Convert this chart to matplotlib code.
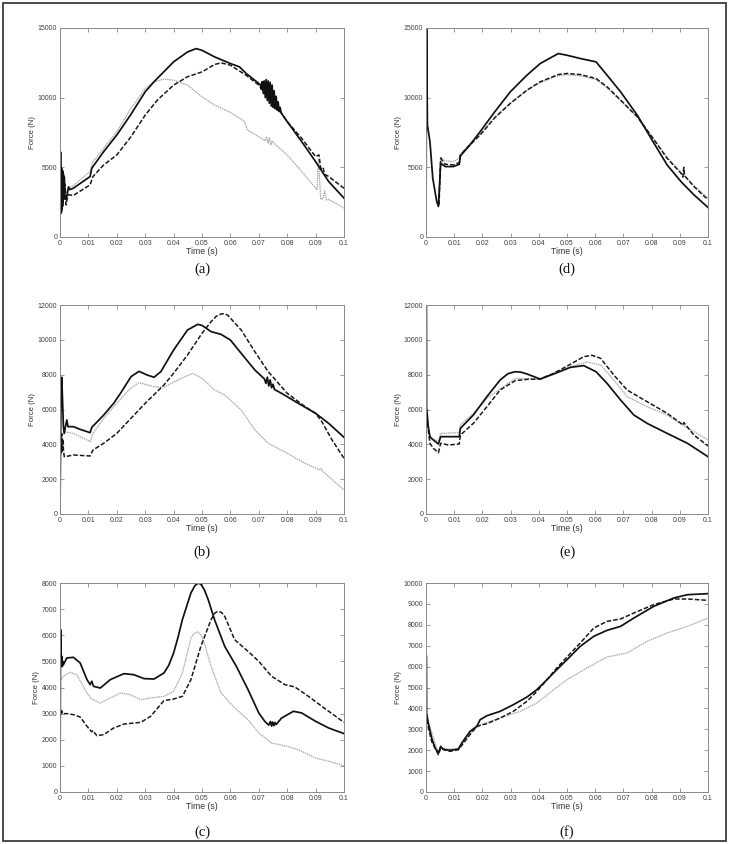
import matplotlib
import matplotlib.pyplot as plt
from matplotlib.patches import Rectangle
from matplotlib.ticker import FixedLocator, FuncFormatter

matplotlib.use("Agg")

# ---- panel (a) ----
a_solid_t = [0, 0.0002, 0.0003, 0.0004, 0.0005, 0.0006, 0.0007, 0.0008, 0.0009, 0.001, 0.0011, 0.0012,
             0.0013, 0.0015, 0.0017, 0.002, 0.0024, 0.003, 0.0035, 0.0047, 0.0106, 0.0112, 0.0154, 0.02,
             0.0248, 0.03, 0.0331, 0.04, 0.0449, 0.0479, 0.05, 0.0544, 0.06, 0.0632, 0.0656, 0.07, 0.0705,
             0.0709, 0.0712, 0.0716, 0.0719, 0.0723, 0.0726, 0.073, 0.0733, 0.0737, 0.074, 0.0744, 0.0747,
             0.0751, 0.0754, 0.0758, 0.0761, 0.0765, 0.0768, 0.0772, 0.0775, 0.0779, 0.08, 0.0851, 0.09,
             0.0946, 0.1]
a_solid_f = [0, 6100, 1700, 5000, 1800, 4900, 2000, 4800, 2200, 4700, 2500, 4500, 2700, 4300, 3000, 2700,
             2900, 3600, 3400, 3500, 4340, 4940, 6130, 7320, 8750, 10420, 11140, 12570, 13280, 13520, 13400,
             12930, 12450, 12210, 11730, 11020, 10950, 10600, 11150, 10300, 11200, 10000, 11300, 9800, 11200,
             9600, 11100, 9400, 10900, 9300, 10500, 9200, 10100, 9100, 9700, 9000, 9300, 8900, 8280, 6845,
             5410, 3980, 2790]
a_dash_t = [0.0005, 0.0008, 0.0011, 0.0014, 0.0018, 0.0021, 0.0025, 0.003, 0.0047, 0.0106, 0.0116, 0.0154,
            0.02, 0.025, 0.03, 0.0343, 0.04, 0.0449, 0.05, 0.0544, 0.0567, 0.06, 0.0656, 0.07, 0.0715, 0.072,
            0.0725, 0.073, 0.0745, 0.08, 0.0851, 0.09, 0.0912, 0.0918, 0.0926, 0.0932, 0.0946, 0.1]
a_dash_f = [4200, 3200, 4400, 3000, 3800, 2300, 2700, 3030, 2980, 3745, 4340, 5175, 5890, 7200, 8750, 9830,
            10900, 11500, 11850, 12380, 12500, 12330, 11600, 10900, 10500, 10800, 10300, 10600, 9950, 8280,
            7080, 5770, 5890, 4900, 5000, 4500, 4340, 3500]
a_dot_t = [0.0004, 0.0007, 0.001, 0.0013, 0.0016, 0.002, 0.0024, 0.003, 0.0047, 0.0106, 0.0116, 0.0154,
           0.02, 0.025, 0.03, 0.0331, 0.0366, 0.04, 0.0449, 0.05, 0.0544, 0.06, 0.065, 0.066, 0.07, 0.0722,
           0.0727, 0.0732, 0.0737, 0.0742, 0.0747, 0.0752, 0.08, 0.0851, 0.0905, 0.091, 0.0918, 0.0926,
           0.0932, 0.0938, 0.0946, 0.1]
a_dot_f = [4500, 3000, 4600, 3200, 4300, 2900, 3270, 3500, 3700, 4700, 5410, 6370, 7560, 9230, 10660, 11140,
           11330, 11260, 10900, 10065, 9470, 8940, 8280, 7680, 7200, 6900, 7200, 6700, 7100, 6600, 6900, 6750,
           5890, 4700, 3400, 5600, 2700, 2750, 3300, 2650, 2700, 2075]

# ---- panel (b) ----
b_solid_t = [0, 0.0002, 0.0004, 0.0006, 0.0008, 0.0012, 0.0015, 0.0019, 0.0024, 0.0028, 0.0047, 0.0071,
             0.0106, 0.0112, 0.0154, 0.0189, 0.0213, 0.025, 0.0278, 0.0307, 0.0331, 0.0355, 0.04, 0.0449,
             0.0485, 0.05, 0.0532, 0.0567, 0.06, 0.0638, 0.0686, 0.072, 0.0725, 0.073, 0.0735, 0.074, 0.0745,
             0.075, 0.0755, 0.078, 0.0839, 0.09, 0.0946, 0.1]
b_solid_f = [0, 4000, 7000, 7850, 7000, 5015, 4630, 5000, 5400, 5015, 5015, 4860, 4670, 4975, 5685, 6355,
             6930, 7885, 8190, 7980, 7850, 8170, 9415, 10565, 10890, 10830, 10470, 10315, 9990, 9225, 8270,
             7750, 7500, 7850, 7350, 7700, 7250, 7450, 7150, 6930, 6355, 5780, 5205, 4400]
b_dash_t = [0.0002, 0.0004, 0.0006, 0.0008, 0.001, 0.0012, 0.0015, 0.0018, 0.0047, 0.0106, 0.0116, 0.0154,
            0.02, 0.025, 0.03, 0.0366, 0.04, 0.0449, 0.05, 0.0532, 0.055, 0.0567, 0.0578, 0.059, 0.0638,
            0.0686, 0.0733, 0.08, 0.0863, 0.09, 0.0922, 0.0958, 0.1]
b_dash_f = [4440, 3500, 4600, 3600, 4300, 3700, 3290, 3290, 3390, 3330, 3675, 4060, 4630, 5495, 6355, 7410,
            8080, 9130, 10375, 11045, 11350, 11485, 11500, 11425, 10565, 9320, 8175, 6930, 6165, 5780, 5300,
            4250, 3195]
b_dot_t = [0.0008, 0.0012, 0.0047, 0.0106, 0.0116, 0.0154, 0.02, 0.0248, 0.0278, 0.0331, 0.0366, 0.0426,
           0.0467, 0.05, 0.0544, 0.058, 0.0638, 0.0686, 0.0733, 0.08, 0.0863, 0.0915, 0.092, 0.0925, 0.1]
b_dot_f = [4440, 4730, 4630, 4155, 4630, 5495, 6355, 7215, 7540, 7310, 7275, 7790, 8075, 7790, 7120, 6835,
           5970, 4825, 4060, 3485, 2910, 2525, 2600, 2450, 1380]

# ---- panel (c) ----
c_solid_t = [0, 0.0002, 0.0004, 0.0006, 0.0008, 0.001, 0.0012, 0.0024, 0.0047, 0.0071, 0.0095, 0.0106,
             0.0112, 0.0118, 0.0142, 0.0177, 0.0225, 0.026, 0.0296, 0.0331, 0.0366, 0.0383, 0.04, 0.0415,
             0.0431, 0.0461, 0.0475, 0.0487, 0.0497, 0.0508, 0.0522, 0.0544, 0.058, 0.0621, 0.0662, 0.07,
             0.0721, 0.0735, 0.0741, 0.0745, 0.0749, 0.0753, 0.0757, 0.0761, 0.078, 0.0822, 0.0851, 0.09,
             0.0946, 0.1]
c_solid_f = [0, 6215, 4940, 5200, 4800, 5000, 4875, 5130, 5155, 4940, 4300, 4110, 4240, 4045, 3980, 4300,
             4530, 4490, 4340, 4325, 4555, 4850, 5320, 5900, 6600, 7620, 7900, 8000, 7940, 7745, 7360, 6600,
             5575, 4810, 3920, 3025, 2705, 2560, 2700, 2520, 2680, 2540, 2660, 2580, 2830, 3090, 3025, 2705,
             2450, 2235]
c_dash_t = [0.0003, 0.0005, 0.0007, 0.0009, 0.0024, 0.0047, 0.0071, 0.0095, 0.0112, 0.0115, 0.013, 0.0154,
            0.0189, 0.0225, 0.026, 0.0284, 0.0319, 0.0366, 0.04, 0.0431, 0.0461, 0.0496, 0.0532, 0.0545,
            0.0556, 0.0568, 0.058, 0.0615, 0.0662, 0.07, 0.0745, 0.0792, 0.0827, 0.0875, 0.0922, 0.1]
c_dash_f = [3150, 2950, 3100, 3000, 3000, 2960, 2870, 2515, 2300, 2350, 2155, 2195, 2450, 2600, 2640, 2665,
            2895, 3495, 3560, 3660, 4300, 5575, 6600, 6850, 6915, 6880, 6725, 5830, 5385, 5000, 4430, 4110,
            4020, 3660, 3280, 2665]
c_dot_t = [0.0003, 0.0012, 0.0035, 0.0059, 0.0095, 0.0112, 0.0142, 0.0177, 0.0213, 0.0248, 0.0284, 0.0319,
           0.0366, 0.04, 0.0431, 0.0461, 0.0473, 0.0485, 0.0497, 0.0508, 0.0532, 0.0567, 0.0615, 0.0662, 0.07,
           0.0745, 0.08, 0.0839, 0.09, 0.0946, 0.1]
c_dot_f = [4300, 4430, 4580, 4490, 3790, 3560, 3405, 3600, 3790, 3725, 3535, 3600, 3660, 3850, 4555, 5895,
           6080, 6125, 6000, 5705, 4810, 3790, 3215, 2770, 2260, 1875, 1750, 1620, 1300, 1175, 1010]

# ---- panel (d) ----
d_solid_t = [0, 0.0002, 0.0005, 0.0014, 0.0024, 0.0038, 0.0044, 0.0052, 0.0068, 0.0097, 0.0118, 0.0122,
             0.0156, 0.0192, 0.0244, 0.0299, 0.0358, 0.0405, 0.0469, 0.05, 0.0547, 0.0603, 0.0642, 0.069,
             0.0749, 0.0805, 0.0855, 0.0904, 0.095, 0.1]
d_solid_f = [0, 15000, 8040, 6845, 4220, 2550, 2190, 5295, 5055, 5055, 5220, 5820, 6610, 7560, 8990, 10420,
             11615, 12450, 13165, 13045, 12810, 12570, 11615, 10420, 8750, 6845, 5175, 3980, 3030, 2120]
d_dash_t = [0.0046, 0.0052, 0.0068, 0.0097, 0.0118, 0.0122, 0.0156, 0.0192, 0.0244, 0.0299, 0.0358, 0.0405,
            0.0469, 0.05, 0.0547, 0.0603, 0.0642, 0.069, 0.0749, 0.0805, 0.0855, 0.0904, 0.0911, 0.0914,
            0.0917, 0.095, 0.1]
d_dash_f = [2300, 5650, 5220, 5175, 5340, 5890, 6610, 7320, 8560, 9590, 10540, 11140, 11660, 11735, 11660,
            11375, 10780, 9830, 8630, 7080, 5650, 4580, 4300, 5000, 4400, 3625, 2670]
d_dot_t = [0.0047, 0.0052, 0.0068, 0.0097, 0.0118, 0.0122, 0.0156, 0.0192, 0.0244, 0.0299, 0.0358, 0.0405,
           0.0469, 0.05, 0.0547, 0.0603, 0.0642, 0.069, 0.0749, 0.0805, 0.0855, 0.0904, 0.095, 0.1]
d_dot_f = [2400, 5770, 5460, 5410, 5650, 5950, 6700, 7380, 8600, 9600, 10520, 11080, 11580, 11650, 11570,
           11300, 10700, 9780, 8620, 7120, 5720, 4650, 3700, 2790]

# ---- panel (e) ----
e_solid_t = [0, 0.0001, 0.0002, 0.0008, 0.0014, 0.0026, 0.0044, 0.0052, 0.008, 0.0118, 0.0122, 0.0168,
             0.0216, 0.0263, 0.029, 0.0316, 0.0335, 0.0358, 0.0405, 0.0453, 0.0512, 0.0559, 0.0603, 0.0642,
             0.069, 0.0737, 0.0784, 0.0855, 0.0927, 0.1]
e_solid_f = [0, 12000, 6160, 5015, 4440, 4250, 4020, 4440, 4440, 4440, 4920, 5685, 6740, 7695, 8050, 8170,
             8150, 8040, 7750, 8040, 8420, 8520, 8170, 7500, 6545, 5685, 5205, 4630, 4060, 3290]
e_dash_t = [0.0002, 0.0014, 0.0026, 0.0044, 0.0052, 0.008, 0.0118, 0.0122, 0.0168, 0.0216, 0.0263, 0.0316,
            0.0358, 0.0405, 0.0453, 0.0512, 0.0559, 0.0589, 0.0619, 0.0666, 0.0713, 0.0784, 0.0855, 0.0904,
            0.0911, 0.0914, 0.095, 0.1]
e_dash_f = [5590, 4060, 3770, 3520, 4060, 3960, 4020, 4535, 5205, 6160, 7120, 7655, 7730, 7750, 8080, 8595,
            9035, 9110, 8940, 7980, 7120, 6450, 5780, 5205, 5100, 5250, 4535, 3905]
e_dot_t = [0.0002, 0.0014, 0.0044, 0.0052, 0.0118, 0.0122, 0.0168, 0.0216, 0.0316, 0.0405, 0.0512, 0.0571,
           0.0619, 0.0666, 0.0713, 0.0784, 0.0855, 0.0904, 0.1]
e_dot_f = [5800, 4345, 4200, 4630, 4670, 5110, 5780, 6640, 7790, 7750, 8460, 8730, 8555, 7695, 6740, 6160,
           5685, 5170, 4250]

# ---- panel (f) ----
f_solid_t = [0, 0.0001, 0.0002, 0.0008, 0.002, 0.0032, 0.0044, 0.0052, 0.0062, 0.0085, 0.0115, 0.0127,
             0.0156, 0.018, 0.0192, 0.0216, 0.0263, 0.031, 0.0358, 0.0393, 0.0429, 0.0464, 0.05, 0.0547,
             0.0595, 0.0642, 0.069, 0.0737, 0.0808, 0.0879, 0.0927, 0.1]
f_solid_f = [0, 6525, 3780, 3300, 2585, 2105, 1865, 2185, 2025, 1995, 2060, 2345, 2900, 3140, 3460, 3650,
             3860, 4180, 4545, 4895, 5375, 5855, 6330, 6970, 7450, 7735, 7925, 8325, 8885, 9285, 9440, 9490]
f_dash_t = [0.0002, 0.002, 0.0044, 0.0052, 0.0085, 0.0115, 0.0156, 0.018, 0.0216, 0.0263, 0.031, 0.0358,
            0.0393, 0.0429, 0.0464, 0.05, 0.0547, 0.0595, 0.0642, 0.069, 0.0737, 0.0808, 0.0879, 0.0927, 0.1]
f_dash_f = [3460, 2425, 1785, 2105, 1945, 2025, 2745, 3140, 3270, 3540, 3860, 4340, 4815, 5375, 5935, 6460,
            7130, 7845, 8165, 8280, 8565, 8965, 9235, 9235, 9170]
f_dot_t = [0.0002, 0.0044, 0.0052, 0.0115, 0.0156, 0.0192, 0.0263, 0.0334, 0.0393, 0.0453, 0.05, 0.0571,
           0.0642, 0.0713, 0.0784, 0.0855, 0.0927, 0.1]
f_dot_f = [3620, 1865, 2105, 2025, 2825, 3220, 3540, 3860, 4260, 4895, 5375, 5935, 6460, 6650, 7210, 7610,
           7925, 8325]

x_ticks = [0, 0.01, 0.02, 0.03, 0.04, 0.05, 0.06, 0.07, 0.08, 0.09, 0.1]
y_ticks_15k = [0, 5000, 10000, 15000]
y_ticks_12k = [0, 2000, 4000, 6000, 8000, 10000, 12000]
y_ticks_8k = [0, 1000, 2000, 3000, 4000, 5000, 6000, 7000, 8000]
y_ticks_10k = [0, 1000, 2000, 3000, 4000, 5000, 6000, 7000, 8000, 9000, 10000]

panels = [
    ("(a)", (a_solid_t, a_solid_f), (a_dash_t, a_dash_f), (a_dot_t, a_dot_f), y_ticks_15k),
    ("(d)", (d_solid_t, d_solid_f), (d_dash_t, d_dash_f), (d_dot_t, d_dot_f), y_ticks_15k),
    ("(b)", (b_solid_t, b_solid_f), (b_dash_t, b_dash_f), (b_dot_t, b_dot_f), y_ticks_12k),
    ("(e)", (e_solid_t, e_solid_f), (e_dash_t, e_dash_f), (e_dot_t, e_dot_f), y_ticks_12k),
    ("(c)", (c_solid_t, c_solid_f), (c_dash_t, c_dash_f), (c_dot_t, c_dot_f), y_ticks_8k),
    ("(f)", (f_solid_t, f_solid_f), (f_dash_t, f_dash_f), (f_dot_t, f_dot_f), y_ticks_10k),
]

plt.rcParams["font.family"] = ["Liberation Sans", "DejaVu Sans"]

W, H = 730, 844
fig = plt.figure(figsize=(W / 100, H / 100), dpi=100)

# pixel boxes (left, right) per column, (top, bottom) per row
cols = [(60, 344), (426, 708)]
rows = [(28, 237), (305, 514), (583, 792)]
caption_y = [269, 552, 832]
axis_grey = "#8a8a8a"

for i, (label, solid, dash, dot, yticks) in enumerate(panels):
    r, c = divmod(i, 2)
    x0, x1 = cols[c]
    y0, y1 = rows[r]
    ax = fig.add_axes([x0 / W, 1 - y1 / H, (x1 - x0) / W, (y1 - y0) / H])

    ax.plot(*dot, color="#a8a8a8", lw=0.9, ls=(0, (1.2, 0.6)))
    ax.plot(*dash, color="#1a1a1a", lw=1.1, ls=(0, (3, 1.3)))
    ax.plot(*solid, color="#111111", lw=1.25)

    ax.set_xlim(0, 0.1)
    ax.set_ylim(0, yticks[-1])
    ax.xaxis.set_major_locator(FixedLocator(x_ticks))
    ax.yaxis.set_major_locator(FixedLocator(yticks))
    ax.xaxis.set_major_formatter(FuncFormatter(lambda v, p: "%g" % round(v, 3)))
    ax.yaxis.set_major_formatter(FuncFormatter(lambda v, p: "%d" % v))
    ax.tick_params(direction="in", top=True, right=True, length=3, width=0.6,
                   color=axis_grey, labelsize=5, labelcolor="#404040", pad=2)
    for s in ax.spines.values():
        s.set_color(axis_grey)
        s.set_linewidth(0.7)

    ax.set_xlabel("Time (s)", fontsize=6.3, color="#333333", labelpad=0.5)
    ax.set_ylabel("Force (N)", fontsize=5.6, color="#333333", labelpad=1.5)

    fig.text((x0 + x1) / 2 / W, 1 - caption_y[r] / H, label, ha="center", va="center",
             fontsize=10.5, family="Liberation Serif", color="#111111")

fig.patches.append(Rectangle((0.004, 0.003), 0.991, 0.994, transform=fig.transFigure,
                             fill=False, edgecolor="#4a4a4a", linewidth=1.4))

fig.savefig("out.png", dpi=100)
plt.close(fig)
